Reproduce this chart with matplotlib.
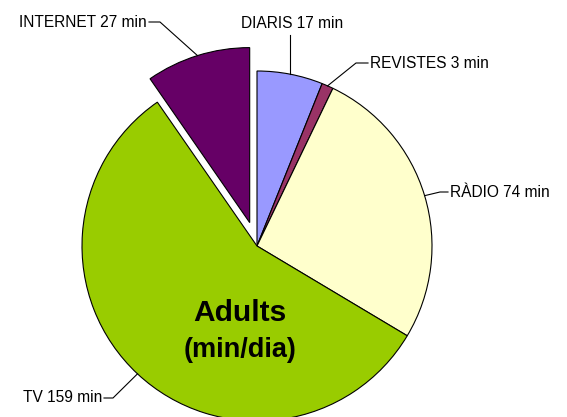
import numpy as np
import matplotlib.pyplot as plt

labels = ['DIARIS', 'REVISTES', 'RÀDIO', 'TV', 'INTERNET']
minutes = [17, 3, 74, 159, 27]
colors = ['#9999FF', '#993366', '#FFFFCC', '#99CC00', '#660066']

H = 417
R = 175
# matplotlib offsets exploded wedges in data units, so scale by the radius
explode = [0, 0, 0, 0, 0.14 * R]

fig = plt.figure(figsize=(5.67, 4.17), dpi=100)
ax = fig.add_axes([0, 0, 1, 1])

wedges, _ = ax.pie(minutes, colors=colors, startangle=90, counterclock=False,
                   explode=explode, center=(257, H - 246), radius=R,
                   wedgeprops=dict(edgecolor='black', linewidth=0.8),
                   frame=True)
ax.set_xlim(0, 567)
ax.set_ylim(0, H)
ax.set_aspect('equal')
ax.axis('off')

def edge(w):
    a = np.deg2rad((w.theta1 + w.theta2) / 2)
    cx, cy = w.center
    return cx + w.r * np.cos(a), cy + w.r * np.sin(a)

font = dict(family='Liberation Sans', fontsize=11.2, color='black')
# (text x, text y in image px, ha, elbow x)
pos = {
    'DIARIS': (292, 23, 'center', None),
    'REVISTES': (370, 63, 'left', 356),
    'RÀDIO': (450, 192, 'left', 440),
    'TV': (102, 398, 'right', 113),
    'INTERNET': (147, 22, 'right', 160),
}
for w, lab, m in zip(wedges, labels, minutes):
    tx, ty, ha, elbow = pos[lab]
    ex, ey = edge(w)
    ax.text(tx, H - ty, f'{lab} {m} min', ha=ha, va='center', **font)
    if elbow is None:
        ax.plot([ex, ex], [H - 35, ey], color='black', lw=0.8)
    else:
        start = tx - 2 if ha == 'left' else tx + 2
        ax.plot([start, elbow, ex], [H - ty, H - ty, ey], color='black', lw=0.8)

ax.text(240, H - 313, 'Adults', ha='center', va='center',
        family='Liberation Sans', fontsize=21.5, fontweight='bold')
ax.text(240, H - 350, '(min/dia)', ha='center', va='center',
        family='Liberation Sans', fontsize=19.5, fontweight='bold')

fig.savefig('out.png', dpi=100)
